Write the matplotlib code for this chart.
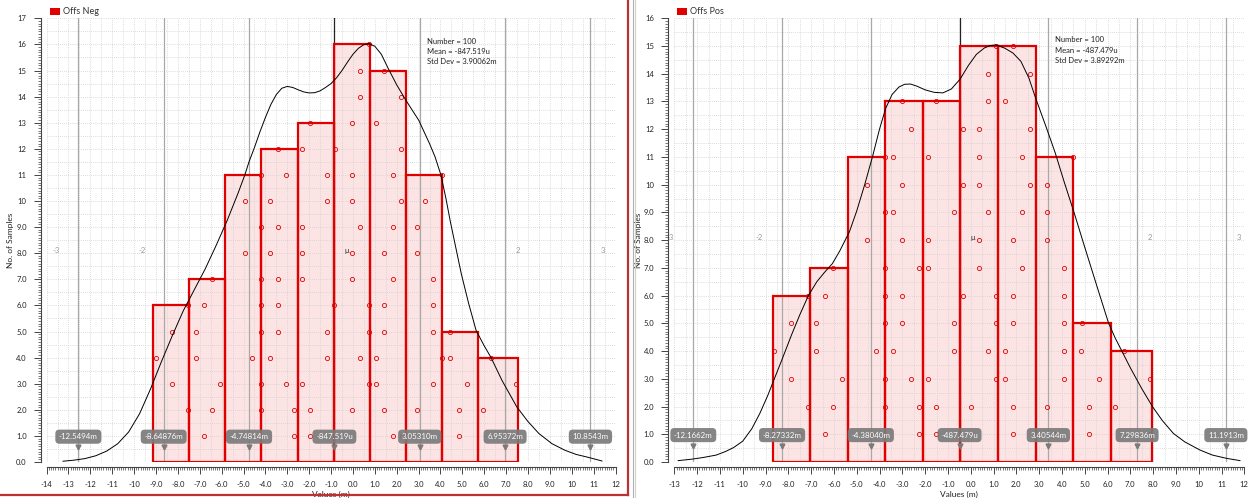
import numpy as np
import matplotlib.pyplot as plt
from matplotlib.ticker import MultipleLocator, FuncFormatter
from matplotlib.lines import Line2D
from matplotlib.patches import Rectangle

plt.rcParams['font.family'] = ['Lato', 'DejaVu Sans']

# ---------------- Offs Neg ----------------
neg_edges = [-9.12, -7.485, -5.83, -4.18, -2.53, -0.86, 0.77, 2.42, 4.06, 5.72, 7.54]
neg_counts = [6, 7, 11, 12, 13, 16, 15, 11, 5, 4]
# sample values per bin, k-th value is drawn at height k
neg_samples = [
    [-7.95, -7.56, -8.29, -9.00, -8.29, -7.56],
    [-6.80, -6.43, -6.06, -7.17, -7.17, -6.80, -6.43],
    [-4.86, -4.18, -4.18, -4.59, -4.18, -4.18, -4.18, -4.91, -4.18, -4.91, -4.21],
    [-2.71, -2.71, -3.05, -3.81, -3.42, -3.42, -3.42, -3.81, -3.42, -3.81, -3.05, -3.42],
    [-1.95, -1.95, -2.32, -1.19, -1.19, -0.85, -2.32, -2.32, -2.32, -1.19, -1.19, -2.32, -1.95],
    [-0.46, -0.04, 0.73, 0.32, 0.73, 0.73, -0.04, -0.04, 0.32, -0.04, -0.04, -0.80, -0.04, 0.32, 0.32, 0.73],
    [1.82, 1.44, 1.06, 1.06, 1.44, 1.44, 1.82, 1.44, 1.82, 2.20, 1.82, 2.20, 1.06, 2.20, 1.44],
    [2.25, 2.92, 3.68, 4.06, 3.68, 3.68, 3.68, 2.92, 2.92, 3.31, 4.06],
    [4.83, 4.83, 5.21, 4.45, 4.45],
    [7.49, 5.93, 7.44, 6.31],
]
neg_curve_x = [-13.25, -12.75, -12.25, -11.75, -11.25, -10.75, -10.25, -9.75, -9.25, -8.75,
               -8.25, -7.75, -7.25, -6.75, -6.25, -5.75, -5.25, -4.94, -4.75, -4.5, -4.25,
               -4.0, -3.75, -3.5, -3.25, -3.0, -2.75, -2.5, -2.25, -2.0, -1.75, -1.5, -1.25,
               -1.0, -0.75, -0.5, -0.25, 0.0, 0.25, 0.5, 0.72, 1.0, 1.3, 1.6, 2.0, 2.42,
               3.01, 3.5, 3.75, 4.02, 4.25, 4.44, 4.95, 5.29, 5.63, 6.0, 6.3, 6.81, 7.49,
               8.0, 8.5, 9.1, 9.69, 10.2, 10.7, 11.38]
neg_curve_y = [0.03, 0.07, 0.13, 0.24, 0.42, 0.70, 1.15, 1.85, 2.8, 3.85,
               4.85, 5.8, 6.6, 7.4, 8.3, 9.25, 10.3, 11.0, 11.5, 12.05, 12.65,
               13.2, 13.7, 14.08, 14.32, 14.39, 14.35, 14.26, 14.18, 14.14, 14.15, 14.22, 14.35,
               14.5, 14.72, 15.0, 15.32, 15.62, 15.85, 15.99, 16.03, 15.93, 15.62, 15.1, 14.45, 13.86,
               13.09, 12.2, 11.7, 11.0, 10.1, 9.26, 7.22, 6.07, 5.04, 4.45, 4.02, 3.13, 2.11,
               1.55, 1.09, 0.7, 0.45, 0.29, 0.19, 0.04]
neg_mean = -0.847519
neg_std = 3.90062
neg_stats = ["Number = 100", "Mean = -847.519u", "Std Dev = 3.90062m"]
neg_marks = ["-12.5494m", "-8.64876m", "-4.74814m", "-847.519u", "3.05310m", "6.95372m", "10.8543m"]

# ---------------- Offs Pos ----------------
pos_edges = [-8.68, -7.05, -5.40, -3.75, -2.09, -0.45, 1.20, 2.85, 4.50, 6.14, 7.95]
pos_counts = [6, 7, 11, 13, 13, 15, 15, 11, 5, 4]
pos_samples = [
    [-7.49, -7.12, -7.87, -8.62, -7.87, -7.12],
    [-6.40, -6.03, -5.65, -6.77, -6.77, -6.40, -6.03],
    [-4.31, -3.76, -3.76, -4.15, -3.76, -3.76, -3.76, -4.53, -3.76, -4.53, -3.76],
    [-2.26, -2.26, -2.64, -3.39, -3.03, -3.03, -2.26, -3.03, -3.39, -3.03, -3.39, -2.64, -3.03],
    [-1.52, -1.52, -1.89, -0.75, -0.75, -0.35, -1.89, -1.89, -0.75, -0.35, -1.89, -0.35, -1.52],
    [0.00, 0.00, 1.12, 0.75, 1.12, 1.12, 0.37, 0.37, 0.75, 0.37, 0.37, 0.37, 0.75, 0.75, 1.12],
    [1.87, 1.87, 1.49, 1.49, 1.87, 1.87, 2.25, 1.87, 2.25, 2.62, 2.25, 2.62, 1.49, 2.62, 1.87],
    [3.71, 3.34, 4.09, 4.09, 4.09, 4.09, 4.09, 3.34, 3.34, 3.34, 4.49],
    [5.21, 5.21, 5.63, 4.84, 4.88],
    [7.88, 6.35, 7.88, 6.72],
]
pos_curve_x = [-12.83, -12.25, -11.75, -11.16, -10.75, -10.4, -10.0, -9.6, -9.25, -8.9,
               -8.66, -8.25, -7.85, -7.5, -7.12, -6.75, -6.4, -6.07, -5.75, -5.32, -5.0,
               -4.65, -4.31, -4.0, -3.73, -3.45, -3.15, -2.9, -2.64, -2.35, -2.0, -1.6,
               -1.22, -0.85, -0.47, -0.1, 0.25, 0.6, 0.85, 1.12, 1.5, 1.85, 2.2, 2.55,
               2.87, 3.3, 3.71, 4.1, 4.54, 5.0, 5.54, 6.05, 6.35, 6.63, 7.0, 7.5, 7.97,
               8.4, 8.89, 9.4, 10.06, 10.6, 11.23, 11.81]
pos_curve_y = [0.05, 0.1, 0.16, 0.25, 0.38, 0.52, 0.75, 1.2, 1.75, 2.4,
               2.9, 3.75, 4.6, 5.3, 6.0, 6.5, 6.85, 7.15, 7.6, 8.3, 9.05,
               10.0, 11.0, 12.0, 12.75, 13.25, 13.52, 13.62, 13.63, 13.55, 13.42, 13.33,
               13.31, 13.45, 13.8, 14.3, 14.7, 14.93, 15.02, 15.04, 14.92, 14.75, 14.45, 13.85,
               13.07, 12.1, 11.14, 10.1, 8.98, 7.75, 6.33, 5.0, 4.45, 4.0, 3.4, 2.65, 2.0,
               1.5, 1.03, 0.72, 0.43, 0.25, 0.13, 0.05]
pos_mean = -0.487479
pos_std = 3.89292
pos_stats = ["Number = 100", "Mean = -487.479u", "Std Dev = 3.89292m"]
pos_marks = ["-12.1662m", "-8.27332m", "-4.38040m", "-487.479u", "3.40544m", "7.29836m", "11.1913m"]

RED = '#e00000'
W, H = 1256, 498


def tick_fmt(v, pos):
    if abs(v) < 9.5:
        return f"{v:.1f}"
    return f"{v:.0f}"


def draw_panel(rect, xlim, ylim, name, edges, counts, samples, cx, cy,
               mean, std, stats, marks, stats_xy):
    ax = fig.add_axes(rect)
    ax.set_xlim(*xlim)
    ax.set_ylim(*ylim)

    # dotted grid every half unit, drawn over the bar fill
    for gx in np.arange(xlim[0], xlim[1] + 0.01, 0.5):
        ax.axvline(gx, color='#d0d0d0', lw=0.6, ls=(0, (1, 1.5)), zorder=2.2)
    for gy in np.arange(ylim[0], ylim[1] + 0.01, 0.5):
        ax.axhline(gy, color='#d0d0d0', lw=0.6, ls=(0, (1, 1.5)), zorder=2.2)

    # mean and sigma lines
    for k in range(-3, 4):
        col = '#222222' if k == 0 else '#a8a8a8'
        ax.axvline(mean + k * std, color=col, lw=0.9, zorder=2.3)
    sig_names = ["-3", "-2", "-1", "\u03bc", "1", "2", "3"]
    for k, s in zip(range(-3, 4), sig_names):
        off = -1.0 if k < 0 else 0.57
        ax.text(mean + k * std + off, 8.1, s, fontsize=5.5, color='#9a9a9a' if k else '#333333',
                ha='center', va='center', zorder=1 if abs(k) == 1 else 2.4)

    # histogram bars
    widths = np.diff(edges)
    ax.bar(edges[:-1], counts, width=widths, align='edge', color='#fde4e4',
           edgecolor='none', zorder=2)
    ax.bar(edges[:-1], counts, width=widths, align='edge', fill=False,
           edgecolor=RED, lw=1.6, zorder=4)

    # individual samples
    for vals in samples:
        ax.plot(vals, np.arange(1, len(vals) + 1), ls='none', marker='o', ms=3.0,
                mfc='none', mec=RED, mew=0.6, zorder=3)

    # density curve
    ax.plot(cx, cy, color='black', lw=0.7, zorder=5)

    # sigma value tags
    for k, s in zip(range(-3, 4), marks):
        xv = mean + k * std
        ax.text(xv, 0.97, s, fontsize=5.7, color='white', ha='center', va='center', zorder=6,
                bbox=dict(boxstyle='round,pad=0.45,rounding_size=0.5', fc='#7b7b7b',
                          ec='none', alpha=0.92))
        ax.plot(xv, 0.57, marker='v', color='#7b7b7b', ms=3.5, zorder=6)

    # statistics
    for i, s in enumerate(stats):
        ax.text(stats_xy[0], stats_xy[1] - i * stats_xy[2], s, fontsize=5.5,
                color='#222222', va='center', zorder=6)

    for side in ['top', 'right']:
        ax.spines[side].set_visible(False)
    ax.spines['left'].set_position(('outward', 4.3))
    ax.spines['bottom'].set_position(('outward', 3.4))
    for side in ['left', 'bottom']:
        ax.spines[side].set_color('#444444')
        ax.spines[side].set_linewidth(0.8)

    ax.xaxis.set_major_locator(MultipleLocator(1))
    ax.xaxis.set_minor_locator(MultipleLocator(0.1))
    ax.yaxis.set_major_locator(MultipleLocator(1))
    ax.yaxis.set_minor_locator(MultipleLocator(0.1))
    ax.xaxis.set_major_formatter(FuncFormatter(tick_fmt))
    ax.yaxis.set_major_formatter(FuncFormatter(tick_fmt))
    ax.tick_params(which='major', length=5, width=0.7, labelsize=5.5, color='#444444',
                   labelcolor='#222222', pad=5)
    ax.tick_params(which='minor', length=2.5, width=0.5, color='#444444')

    ax.set_xlabel('Values (m)', fontsize=6, color='#222222')
    ax.set_ylabel('No. of Samples', fontsize=6, color='#222222')
    ax.xaxis.set_label_coords(0.5, -0.066)
    ax.yaxis.set_label_coords(-0.057, 0.5)

    # legend entry
    x0 = rect[0]
    fig.patches.append(Rectangle((x0 + 3 / W, 1 - 15 / H), 10 / W, 7 / H,
                                 transform=fig.transFigure, fc=RED, ec='none'))
    fig.text(x0 + 16 / W, 1 - 12 / H, name, fontsize=6.5, color='#333333', va='center')
    return ax


fig = plt.figure(figsize=(W / 100, H / 100), dpi=100)

draw_panel([46.6 / W, 36 / H, 568.9 / W, 443.7 / H], (-14, 12), (0, 17), "Offs Neg",
           neg_edges, neg_counts, neg_samples, neg_curve_x, neg_curve_y,
           neg_mean, neg_std, neg_stats, neg_marks, (3.37, 16.13, 0.4))
draw_panel([674.3 / W, 36 / H, 570 / W, 443.7 / H], (-13, 12), (0, 16), "Offs Pos",
           pos_edges, pos_counts, pos_samples, pos_curve_x, pos_curve_y,
           pos_mean, pos_std, pos_stats, pos_marks, (3.70, 15.23, 0.38))

# window frames
fig.lines.append(Line2D([628 / W, 628 / W], [3 / H, 1], transform=fig.transFigure,
                        color='#c03030', lw=1.6))
fig.lines.append(Line2D([0, 628 / W], [3 / H, 3 / H], transform=fig.transFigure,
                        color='#c03030', lw=1.6))
fig.lines.append(Line2D([632.5 / W, 632.5 / W], [0, 1], transform=fig.transFigure,
                        color='#b0b0b0', lw=0.8))
fig.lines.append(Line2D([635 / W, 635 / W], [0, 1], transform=fig.transFigure,
                        color='#d0d0d0', lw=0.8))

fig.savefig('out.png', dpi=100)
